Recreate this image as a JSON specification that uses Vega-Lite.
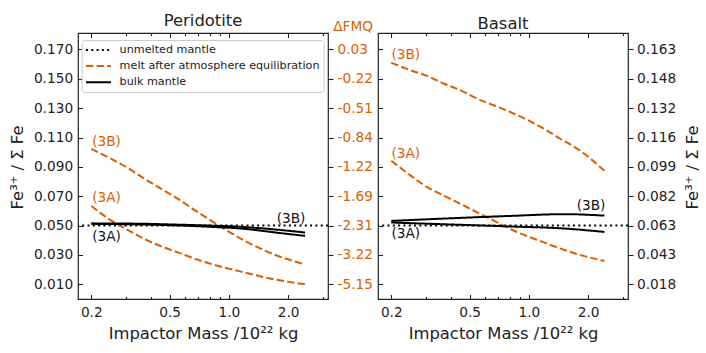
{
  "$schema": "https://vega.github.io/schema/vega-lite/v6.json",
  "autosize": {"type": "pad"},
  "padding": {"left": 8, "top": 12, "right": 0, "bottom": 0},
  "background": "white",
  "config": {
    "font": "DejaVu Sans",
    "view": {"stroke": "#222222", "strokeWidth": 1.2},
    "axis": {
      "domain": false, "grid": false,
      "labelFont": "DejaVu Sans", "labelFontSize": 13.7, "labelColor": "#222222",
      "tickColor": "#222222", "tickWidth": 1.1,
      "titleFont": "DejaVu Sans", "titleFontSize": 16.4, "titleFontWeight": "normal", "titleColor": "#222222",
      "labelFlush": false, "labelOverlap": false, "labelBound": false
    },
    "title": {"font": "DejaVu Sans", "fontSize": 16.4, "fontWeight": "normal", "color": "#222222"},
    "legend": {"labelFont": "DejaVu Sans"}
  },
  "datasets": {
    "curves": [
      {"panel": "Peridotite", "series": "melt after atmosphere equilibration", "case": "3B", "x": 0.2, "y": 0.1022},
      {"panel": "Peridotite", "series": "melt after atmosphere equilibration", "case": "3B", "x": 0.254, "y": 0.0953},
      {"panel": "Peridotite", "series": "melt after atmosphere equilibration", "case": "3B", "x": 0.309, "y": 0.0890},
      {"panel": "Peridotite", "series": "melt after atmosphere equilibration", "case": "3B", "x": 0.375, "y": 0.0817},
      {"panel": "Peridotite", "series": "melt after atmosphere equilibration", "case": "3B", "x": 0.456, "y": 0.0749},
      {"panel": "Peridotite", "series": "melt after atmosphere equilibration", "case": "3B", "x": 0.554, "y": 0.0680},
      {"panel": "Peridotite", "series": "melt after atmosphere equilibration", "case": "3B", "x": 0.70, "y": 0.0589},
      {"panel": "Peridotite", "series": "melt after atmosphere equilibration", "case": "3B", "x": 0.884, "y": 0.0503},
      {"panel": "Peridotite", "series": "melt after atmosphere equilibration", "case": "3B", "x": 1.21, "y": 0.0395},
      {"panel": "Peridotite", "series": "melt after atmosphere equilibration", "case": "3B", "x": 1.47, "y": 0.0339},
      {"panel": "Peridotite", "series": "melt after atmosphere equilibration", "case": "3B", "x": 1.78, "y": 0.0293},
      {"panel": "Peridotite", "series": "melt after atmosphere equilibration", "case": "3B", "x": 2.44, "y": 0.0236},
      {"panel": "Peridotite", "series": "melt after atmosphere equilibration", "case": "3A", "x": 0.2, "y": 0.0634},
      {"panel": "Peridotite", "series": "melt after atmosphere equilibration", "case": "3A", "x": 0.254, "y": 0.0532},
      {"panel": "Peridotite", "series": "melt after atmosphere equilibration", "case": "3A", "x": 0.309, "y": 0.0468},
      {"panel": "Peridotite", "series": "melt after atmosphere equilibration", "case": "3A", "x": 0.375, "y": 0.0407},
      {"panel": "Peridotite", "series": "melt after atmosphere equilibration", "case": "3A", "x": 0.456, "y": 0.0357},
      {"panel": "Peridotite", "series": "melt after atmosphere equilibration", "case": "3A", "x": 0.554, "y": 0.0316},
      {"panel": "Peridotite", "series": "melt after atmosphere equilibration", "case": "3A", "x": 0.70, "y": 0.0266},
      {"panel": "Peridotite", "series": "melt after atmosphere equilibration", "case": "3A", "x": 0.884, "y": 0.0225},
      {"panel": "Peridotite", "series": "melt after atmosphere equilibration", "case": "3A", "x": 1.21, "y": 0.0180},
      {"panel": "Peridotite", "series": "melt after atmosphere equilibration", "case": "3A", "x": 1.47, "y": 0.0152},
      {"panel": "Peridotite", "series": "melt after atmosphere equilibration", "case": "3A", "x": 1.78, "y": 0.0129},
      {"panel": "Peridotite", "series": "melt after atmosphere equilibration", "case": "3A", "x": 2.44, "y": 0.0100},
      {"panel": "Peridotite", "series": "bulk mantle", "case": "3B", "x": 0.2, "y": 0.0515},
      {"panel": "Peridotite", "series": "bulk mantle", "case": "3B", "x": 0.35, "y": 0.0513},
      {"panel": "Peridotite", "series": "bulk mantle", "case": "3B", "x": 0.5, "y": 0.0508},
      {"panel": "Peridotite", "series": "bulk mantle", "case": "3B", "x": 0.8, "y": 0.0500},
      {"panel": "Peridotite", "series": "bulk mantle", "case": "3B", "x": 1.2, "y": 0.0490},
      {"panel": "Peridotite", "series": "bulk mantle", "case": "3B", "x": 1.8, "y": 0.0471},
      {"panel": "Peridotite", "series": "bulk mantle", "case": "3B", "x": 2.44, "y": 0.0453},
      {"panel": "Peridotite", "series": "bulk mantle", "case": "3A", "x": 0.2, "y": 0.0512},
      {"panel": "Peridotite", "series": "bulk mantle", "case": "3A", "x": 0.35, "y": 0.0508},
      {"panel": "Peridotite", "series": "bulk mantle", "case": "3A", "x": 0.5, "y": 0.0503},
      {"panel": "Peridotite", "series": "bulk mantle", "case": "3A", "x": 0.8, "y": 0.0492},
      {"panel": "Peridotite", "series": "bulk mantle", "case": "3A", "x": 1.2, "y": 0.0478},
      {"panel": "Peridotite", "series": "bulk mantle", "case": "3A", "x": 1.8, "y": 0.0450},
      {"panel": "Peridotite", "series": "bulk mantle", "case": "3A", "x": 2.44, "y": 0.0430},
      {"panel": "Basalt", "series": "melt after atmosphere equilibration", "case": "3B", "x": 0.2, "y": 0.1609},
      {"panel": "Basalt", "series": "melt after atmosphere equilibration", "case": "3B", "x": 0.252, "y": 0.1557},
      {"panel": "Basalt", "series": "melt after atmosphere equilibration", "case": "3B", "x": 0.306, "y": 0.1518},
      {"panel": "Basalt", "series": "melt after atmosphere equilibration", "case": "3B", "x": 0.372, "y": 0.1466},
      {"panel": "Basalt", "series": "melt after atmosphere equilibration", "case": "3B", "x": 0.452, "y": 0.1420},
      {"panel": "Basalt", "series": "melt after atmosphere equilibration", "case": "3B", "x": 0.549, "y": 0.1363},
      {"panel": "Basalt", "series": "melt after atmosphere equilibration", "case": "3B", "x": 0.668, "y": 0.1318},
      {"panel": "Basalt", "series": "melt after atmosphere equilibration", "case": "3B", "x": 0.81, "y": 0.1272},
      {"panel": "Basalt", "series": "melt after atmosphere equilibration", "case": "3B", "x": 1.20, "y": 0.1158},
      {"panel": "Basalt", "series": "melt after atmosphere equilibration", "case": "3B", "x": 1.45, "y": 0.1090},
      {"panel": "Basalt", "series": "melt after atmosphere equilibration", "case": "3B", "x": 1.77, "y": 0.1022},
      {"panel": "Basalt", "series": "melt after atmosphere equilibration", "case": "3B", "x": 2.07, "y": 0.0953},
      {"panel": "Basalt", "series": "melt after atmosphere equilibration", "case": "3B", "x": 2.42, "y": 0.0874},
      {"panel": "Basalt", "series": "melt after atmosphere equilibration", "case": "3A", "x": 0.2, "y": 0.0942},
      {"panel": "Basalt", "series": "melt after atmosphere equilibration", "case": "3A", "x": 0.252, "y": 0.0839},
      {"panel": "Basalt", "series": "melt after atmosphere equilibration", "case": "3A", "x": 0.306, "y": 0.0760},
      {"panel": "Basalt", "series": "melt after atmosphere equilibration", "case": "3A", "x": 0.372, "y": 0.0703},
      {"panel": "Basalt", "series": "melt after atmosphere equilibration", "case": "3A", "x": 0.452, "y": 0.0646},
      {"panel": "Basalt", "series": "melt after atmosphere equilibration", "case": "3A", "x": 0.549, "y": 0.0589},
      {"panel": "Basalt", "series": "melt after atmosphere equilibration", "case": "3A", "x": 0.668, "y": 0.0532},
      {"panel": "Basalt", "series": "melt after atmosphere equilibration", "case": "3A", "x": 0.81, "y": 0.0475},
      {"panel": "Basalt", "series": "melt after atmosphere equilibration", "case": "3A", "x": 1.20, "y": 0.0384},
      {"panel": "Basalt", "series": "melt after atmosphere equilibration", "case": "3A", "x": 1.45, "y": 0.0343},
      {"panel": "Basalt", "series": "melt after atmosphere equilibration", "case": "3A", "x": 1.77, "y": 0.0305},
      {"panel": "Basalt", "series": "melt after atmosphere equilibration", "case": "3A", "x": 2.42, "y": 0.0259},
      {"panel": "Basalt", "series": "bulk mantle", "case": "3B", "x": 0.2, "y": 0.0532},
      {"panel": "Basalt", "series": "bulk mantle", "case": "3B", "x": 0.372, "y": 0.0548},
      {"panel": "Basalt", "series": "bulk mantle", "case": "3B", "x": 0.81, "y": 0.0566},
      {"panel": "Basalt", "series": "bulk mantle", "case": "3B", "x": 1.52, "y": 0.0578},
      {"panel": "Basalt", "series": "bulk mantle", "case": "3B", "x": 2.42, "y": 0.0568},
      {"panel": "Basalt", "series": "bulk mantle", "case": "3A", "x": 0.2, "y": 0.0521},
      {"panel": "Basalt", "series": "bulk mantle", "case": "3A", "x": 0.372, "y": 0.0509},
      {"panel": "Basalt", "series": "bulk mantle", "case": "3A", "x": 0.81, "y": 0.0494},
      {"panel": "Basalt", "series": "bulk mantle", "case": "3A", "x": 1.52, "y": 0.0480},
      {"panel": "Basalt", "series": "bulk mantle", "case": "3A", "x": 2.42, "y": 0.0457}
    ],
    "labels": [
      {"panel": "Peridotite", "series": "melt after atmosphere equilibration", "text": "(3B)", "x": 0.239, "y": 0.1072},
      {"panel": "Peridotite", "series": "melt after atmosphere equilibration", "text": "(3A)", "x": 0.239, "y": 0.0685},
      {"panel": "Peridotite", "series": "bulk mantle", "text": "(3B)", "x": 2.07, "y": 0.0544},
      {"panel": "Peridotite", "series": "bulk mantle", "text": "(3A)", "x": 0.239, "y": 0.0425},
      {"panel": "Basalt", "series": "melt after atmosphere equilibration", "text": "(3B)", "x": 0.237, "y": 0.1659},
      {"panel": "Basalt", "series": "melt after atmosphere equilibration", "text": "(3A)", "x": 0.237, "y": 0.0988},
      {"panel": "Basalt", "series": "bulk mantle", "text": "(3B)", "x": 2.07, "y": 0.0634},
      {"panel": "Basalt", "series": "bulk mantle", "text": "(3A)", "x": 0.237, "y": 0.0441}
    ],
    "reference": [
      {"panel": "Peridotite", "series": "unmelted mantle", "y": 0.05},
      {"panel": "Basalt", "series": "unmelted mantle", "y": 0.05}
    ]
  },
  "hconcat": [
    {
      "title": {"text": "Peridotite", "baseline": "alphabetic", "offset": -23},
      "width": 250, "height": 266,
      "layer": [
        {
          "data": {"name": "reference"},
          "transform": [{"filter": "datum.panel === 'Peridotite'"}],
          "mark": {"type": "rule", "strokeWidth": 2},
          "encoding": {
            "y": {"field": "y", "type": "quantitative", "scale": {"domain": [0, 0.1812], "nice": false, "zero": false},
              "axis": {"orient": "left", "values": [0.01, 0.03, 0.05, 0.07, 0.09, 0.11, 0.13, 0.15, 0.17], "format": ".3f", "tickSize": -4.5, "labelPadding": 9.9,
                "title": "Fe³⁺ / Σ Fe", "titleAngle": 270, "titleX": -60.7, "titleY": 134, "titleAlign": "center", "titleBaseline": "middle"}},
            "color": {"field": "series", "type": "nominal", "scale": {"domain": ["unmelted mantle", "melt after atmosphere equilibration", "bulk mantle"], "range": ["#000000", "#d95f02", "#000000"]},
              "legend": {"orient": "none", "legendX": 3.6, "legendY": 7, "title": null, "labelFontSize": 11.2, "labelColor": "#222222", "labelLimit": 0, "symbolType": "M-1.12,0L3.88,0", "symbolSize": 100, "symbolStrokeWidth": 2, "symbolFillColor": "transparent", "labelOffset": 22, "fillColor": "rgba(255,255,255,0.8)", "strokeColor": "#cccccc", "cornerRadius": 3, "padding": 4, "rowPadding": 4.1}},
            "strokeDash": {"field": "series", "type": "nominal", "scale": {"domain": ["unmelted mantle", "melt after atmosphere equilibration", "bulk mantle"], "range": [[2, 3.3], [7.4, 3.2], [1, 0]]},
              "legend": {"orient": "none", "legendX": 3.6, "legendY": 7, "title": null, "labelFontSize": 11.2, "labelColor": "#222222", "labelLimit": 0, "symbolType": "M-1.12,0L3.88,0", "symbolSize": 100, "symbolStrokeWidth": 2, "symbolFillColor": "transparent", "labelOffset": 22, "fillColor": "rgba(255,255,255,0.8)", "strokeColor": "#cccccc", "cornerRadius": 3, "padding": 4, "rowPadding": 4.1}}
          }
        },
        {
          "data": {"name": "curves"},
          "transform": [{"filter": "datum.panel === 'Peridotite'"}],
          "mark": {"type": "line", "strokeWidth": 2, "interpolate": "monotone"},
          "encoding": {
            "x": {"field": "x", "type": "quantitative", "scale": {"type": "log", "domain": [0.1712, 3.19], "nice": false},
              "axis": {"orient": "bottom", "values": [0.2, 0.3, 0.4, 0.5, 0.6, 0.7, 0.8, 0.9, 1, 2, 3],
                "labelExpr": "datum.value == 0.2 ? '0.2' : datum.value == 0.5 ? '0.5' : datum.value == 1 ? '1.0' : datum.value == 2 ? '2.0' : ''",
                "tickSize": {"condition": {"test": "datum.value == 0.2 || datum.value == 0.5 || datum.value == 1 || datum.value == 2", "value": -4.5}, "value": -2.5},
                "labelPadding": 10.5, "title": "Impactor Mass /10²² kg", "titleY": 39, "titleBaseline": "alphabetic"}},
            "y": {"field": "y", "type": "quantitative", "scale": {"domain": [0, 0.1812], "nice": false, "zero": false},
              "axis": {"orient": "right", "values": [0.01, 0.03, 0.05, 0.07, 0.09, 0.11, 0.13, 0.15, 0.17],
                "labelExpr": "datum.value < 0.02 ? '-5.15' : datum.value < 0.04 ? '-3.22' : datum.value < 0.06 ? '-2.31' : datum.value < 0.08 ? '-1.69' : datum.value < 0.1 ? '-1.22' : datum.value < 0.12 ? '-0.84' : datum.value < 0.14 ? '-0.51' : datum.value < 0.16 ? '-0.22' : '0.03'",
                "labelColor": "#d95f02", "tickSize": 5, "labelPadding": 4,
                "title": "ΔFMQ", "titleAngle": 0, "titleX": 24.6, "titleY": -7, "titleAlign": "center", "titleBaseline": "middle", "titleColor": "#d95f02", "titleFontSize": 13.7}},
            "color": {"field": "series", "type": "nominal", "scale": {"domain": ["unmelted mantle", "melt after atmosphere equilibration", "bulk mantle"], "range": ["#000000", "#d95f02", "#000000"]},
              "legend": {"orient": "none", "legendX": 3.6, "legendY": 7, "title": null, "labelFontSize": 11.2, "labelColor": "#222222", "labelLimit": 0, "symbolType": "M-1.12,0L3.88,0", "symbolSize": 100, "symbolStrokeWidth": 2, "symbolFillColor": "transparent", "labelOffset": 22, "fillColor": "rgba(255,255,255,0.8)", "strokeColor": "#cccccc", "cornerRadius": 3, "padding": 4, "rowPadding": 4.1}},
            "strokeDash": {"field": "series", "type": "nominal", "scale": {"domain": ["unmelted mantle", "melt after atmosphere equilibration", "bulk mantle"], "range": [[2, 3.3], [7.4, 3.2], [1, 0]]},
              "legend": {"orient": "none", "legendX": 3.6, "legendY": 7, "title": null, "labelFontSize": 11.2, "labelColor": "#222222", "labelLimit": 0, "symbolType": "M-1.12,0L3.88,0", "symbolSize": 100, "symbolStrokeWidth": 2, "symbolFillColor": "transparent", "labelOffset": 22, "fillColor": "rgba(255,255,255,0.8)", "strokeColor": "#cccccc", "cornerRadius": 3, "padding": 4, "rowPadding": 4.1}},
            "detail": {"field": "case", "type": "nominal"}
          }
        },
        {
          "data": {"name": "labels"},
          "transform": [{"filter": "datum.panel === 'Peridotite' && datum.series === 'melt after atmosphere equilibration'"}],
          "mark": {"type": "text", "fontSize": 13.7, "color": "#d95f02", "align": "center", "baseline": "middle"},
          "encoding": {
            "x": {"field": "x", "type": "quantitative", "scale": {"type": "log", "domain": [0.1712, 3.19], "nice": false},
              "axis": {"orient": "top", "values": [0.2, 0.3, 0.4, 0.5, 0.6, 0.7, 0.8, 0.9, 1, 2, 3], "labels": false, "title": null,
                "tickSize": {"condition": {"test": "datum.value == 0.2 || datum.value == 0.5 || datum.value == 1 || datum.value == 2", "value": -4.5}, "value": -2.5}}},
            "y": {"field": "y", "type": "quantitative", "scale": {"domain": [0, 0.1812], "nice": false, "zero": false}, "axis": null},
            "text": {"field": "text"}
          }
        },
        {
          "data": {"name": "labels"},
          "transform": [{"filter": "datum.panel === 'Peridotite' && datum.series === 'bulk mantle'"}],
          "mark": {"type": "text", "fontSize": 13.7, "color": "#111111", "align": "center", "baseline": "middle"},
          "encoding": {
            "x": {"field": "x", "type": "quantitative", "scale": {"type": "log", "domain": [0.1712, 3.19], "nice": false}, "axis": null},
            "y": {"field": "y", "type": "quantitative", "scale": {"domain": [0, 0.1812], "nice": false, "zero": false}, "axis": null},
            "text": {"field": "text"}
          }
        }
      ],
      "resolve": {"axis": {"x": "independent", "y": "independent"}}
    },
    {
      "title": {"text": "Basalt", "baseline": "alphabetic", "offset": -12.5},
      "width": 250, "height": 266,
      "layer": [
        {
          "data": {"name": "reference"},
          "transform": [{"filter": "datum.panel === 'Basalt'"}],
          "mark": {"type": "rule", "strokeWidth": 2},
          "encoding": {
            "y": {"field": "y", "type": "quantitative", "scale": {"domain": [0, 0.1812], "nice": false, "zero": false},
              "axis": {"orient": "left", "values": [0.01, 0.03, 0.05, 0.07, 0.09, 0.11, 0.13, 0.15, 0.17], "labels": false, "tickSize": -4.5, "title": null}},
            "color": {"field": "series", "type": "nominal", "scale": {"domain": ["unmelted mantle", "melt after atmosphere equilibration", "bulk mantle"], "range": ["#000000", "#d95f02", "#000000"]}, "legend": null},
            "strokeDash": {"field": "series", "type": "nominal", "scale": {"domain": ["unmelted mantle", "melt after atmosphere equilibration", "bulk mantle"], "range": [[2, 3.3], [7.4, 3.2], [1, 0]]}, "legend": null}
          }
        },
        {
          "data": {"name": "curves"},
          "transform": [{"filter": "datum.panel === 'Basalt'"}],
          "mark": {"type": "line", "strokeWidth": 2, "interpolate": "monotone"},
          "encoding": {
            "x": {"field": "x", "type": "quantitative", "scale": {"type": "log", "domain": [0.1712, 3.19], "nice": false},
              "axis": {"orient": "bottom", "values": [0.2, 0.3, 0.4, 0.5, 0.6, 0.7, 0.8, 0.9, 1, 2, 3],
                "labelExpr": "datum.value == 0.2 ? '0.2' : datum.value == 0.5 ? '0.5' : datum.value == 1 ? '1.0' : datum.value == 2 ? '2.0' : ''",
                "tickSize": {"condition": {"test": "datum.value == 0.2 || datum.value == 0.5 || datum.value == 1 || datum.value == 2", "value": -4.5}, "value": -2.5},
                "labelPadding": 10.5, "title": "Impactor Mass /10²² kg", "titleY": 39, "titleBaseline": "alphabetic"}},
            "y": {"field": "y", "type": "quantitative", "scale": {"domain": [0, 0.1812], "nice": false, "zero": false},
              "axis": {"orient": "right", "values": [0.01, 0.03, 0.05, 0.07, 0.09, 0.11, 0.13, 0.15, 0.17],
                "labelExpr": "datum.value < 0.02 ? '0.018' : datum.value < 0.04 ? '0.043' : datum.value < 0.06 ? '0.063' : datum.value < 0.08 ? '0.082' : datum.value < 0.1 ? '0.099' : datum.value < 0.12 ? '0.116' : datum.value < 0.14 ? '0.132' : datum.value < 0.16 ? '0.148' : '0.163'",
                "tickSize": 5, "labelPadding": 3.5,
                "title": "Fe³⁺ / Σ Fe", "titleAngle": 270, "titleX": 64.7, "titleY": 134, "titleAlign": "center", "titleBaseline": "middle"}},
            "color": {"field": "series", "type": "nominal", "scale": {"domain": ["unmelted mantle", "melt after atmosphere equilibration", "bulk mantle"], "range": ["#000000", "#d95f02", "#000000"]}, "legend": null},
            "strokeDash": {"field": "series", "type": "nominal", "scale": {"domain": ["unmelted mantle", "melt after atmosphere equilibration", "bulk mantle"], "range": [[2, 3.3], [7.4, 3.2], [1, 0]]}, "legend": null},
            "detail": {"field": "case", "type": "nominal"}
          }
        },
        {
          "data": {"name": "labels"},
          "transform": [{"filter": "datum.panel === 'Basalt' && datum.series === 'melt after atmosphere equilibration'"}],
          "mark": {"type": "text", "fontSize": 13.7, "color": "#d95f02", "align": "center", "baseline": "middle"},
          "encoding": {
            "x": {"field": "x", "type": "quantitative", "scale": {"type": "log", "domain": [0.1712, 3.19], "nice": false},
              "axis": {"orient": "top", "values": [0.2, 0.3, 0.4, 0.5, 0.6, 0.7, 0.8, 0.9, 1, 2, 3], "labels": false, "title": null,
                "tickSize": {"condition": {"test": "datum.value == 0.2 || datum.value == 0.5 || datum.value == 1 || datum.value == 2", "value": -4.5}, "value": -2.5}}},
            "y": {"field": "y", "type": "quantitative", "scale": {"domain": [0, 0.1812], "nice": false, "zero": false}, "axis": null},
            "text": {"field": "text"}
          }
        },
        {
          "data": {"name": "labels"},
          "transform": [{"filter": "datum.panel === 'Basalt' && datum.series === 'bulk mantle'"}],
          "mark": {"type": "text", "fontSize": 13.7, "color": "#111111", "align": "center", "baseline": "middle"},
          "encoding": {
            "x": {"field": "x", "type": "quantitative", "scale": {"type": "log", "domain": [0.1712, 3.19], "nice": false}, "axis": null},
            "y": {"field": "y", "type": "quantitative", "scale": {"domain": [0, 0.1812], "nice": false, "zero": false}, "axis": null},
            "text": {"field": "text"}
          }
        }
      ],
      "resolve": {"axis": {"x": "independent", "y": "independent"}}
    }
  ],
  "spacing": 50,
  "bounds": "flush",
  "resolve": {
    "scale": {"x": "independent", "y": "independent", "color": "independent", "strokeDash": "independent"},
    "legend": {"color": "independent", "strokeDash": "independent"}
  }
}
